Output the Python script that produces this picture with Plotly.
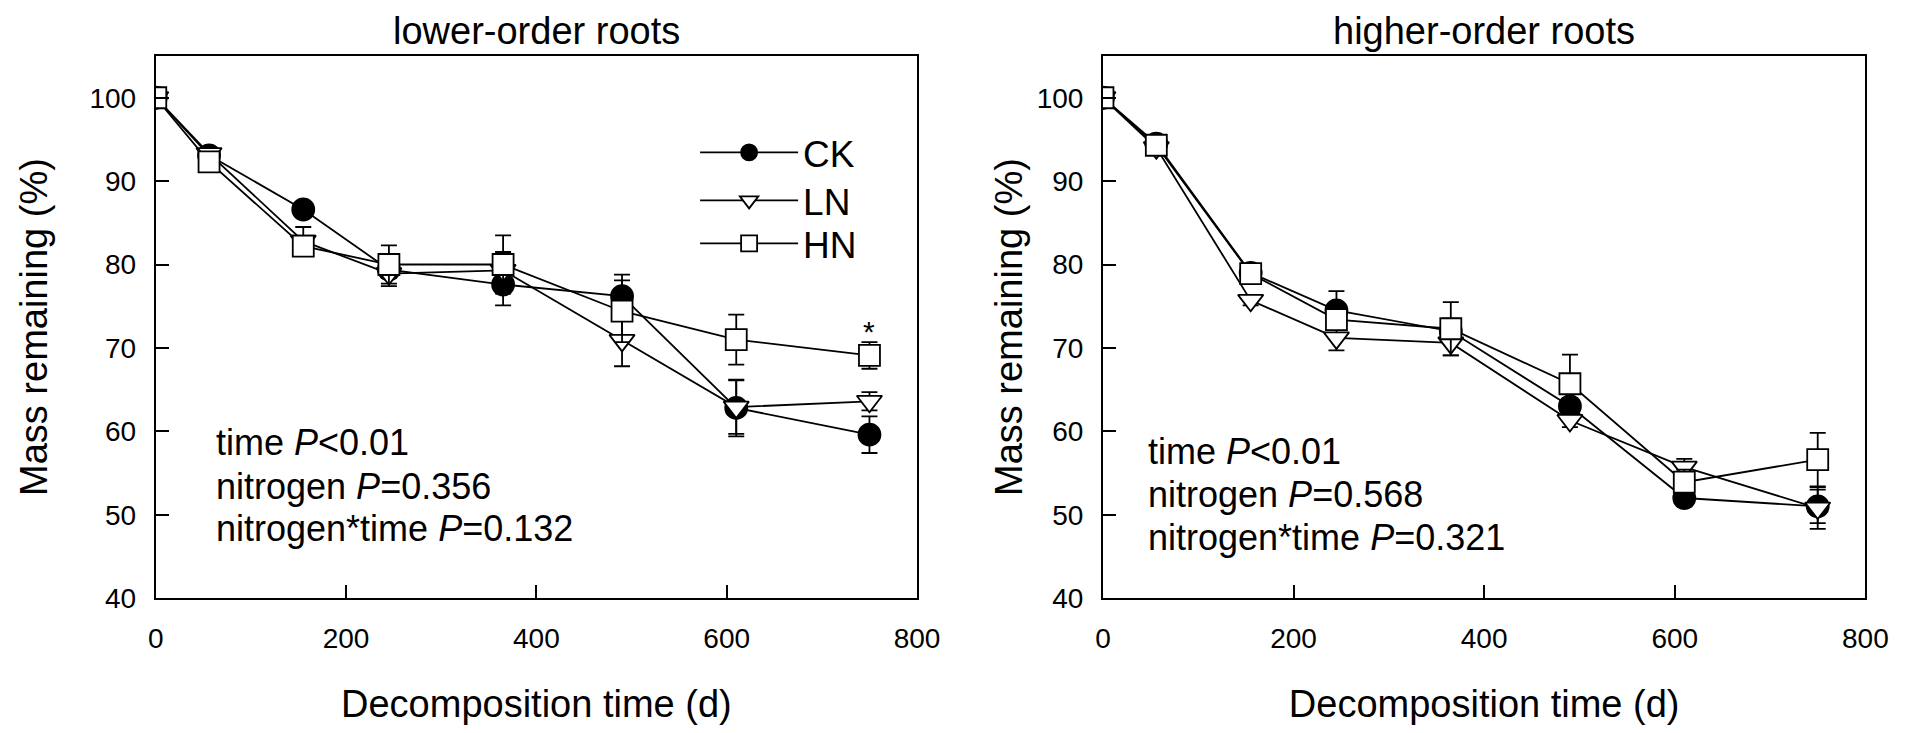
"""
Mass remaining of lower- and higher-order roots during decomposition,
redrawn with Plotly.
"""

import plotly.graph_objects as go

font_family = 'Liberation Sans, Arial, sans-serif'

days = [0, 56, 155, 245, 365, 490, 610, 750]

# lower-order roots
ck_low = [100, 93.1, 86.6, 79.4, 77.6, 76.2, 62.8, 59.6]
ck_low_err = [0.3, 0.5, 0.5, 1.0, 2.5, 2.6, 3.4, 2.2]
ln_low = [100, 93.3, 82.8, 78.9, 79.3, 70.9, 62.9, 63.6]
ln_low_err = [0.3, 0.5, 1.7, 1.5, 2.2, 3.1, 3.2, 1.1]
hn_low = [100, 92.3, 82.2, 80.0, 80.0, 74.4, 71.0, 69.1]
hn_low_err = [0.3, 0.6, 1.0, 2.3, 3.5, 3.7, 3.0, 1.6]

# higher-order roots
ck_high = [100, 94.5, 79.0, 74.5, 72.0, 63.0, 52.0, 51.0]
ck_high_err = [0.3, 0.5, 0.8, 2.3, 1.5, 1.0, 1.0, 2.0]
ln_high = [100, 94.0, 75.7, 71.2, 70.6, 61.3, 55.7, 50.8]
ln_high_err = [0.3, 0.5, 0.6, 1.5, 1.5, 0.8, 1.0, 2.5]
hn_high = [100, 94.3, 78.9, 73.4, 72.3, 65.7, 53.9, 56.6]
hn_high_err = [0.3, 0.5, 0.7, 1.2, 3.2, 3.5, 1.5, 3.2]

stats_low = ['time <i>P</i>&lt;0.01', 'nitrogen <i>P</i>=0.356',
             'nitrogen*time <i>P</i>=0.132']
stats_high = ['time <i>P</i>&lt;0.01', 'nitrogen <i>P</i>=0.568',
              'nitrogen*time <i>P</i>=0.321']

treatments = ['CK', 'LN', 'HN']
symbols = {'CK': 'circle', 'LN': 'triangle-down', 'HN': 'square'}
fills = {'CK': 'black', 'LN': 'white', 'HN': 'white'}
sizes = {'CK': 22, 'LN': 22, 'HN': 21}
legend_ids = {'CK': 'legend', 'LN': 'legend2', 'HN': 'legend3'}

panels = [
    ('x', 'y', {'CK': (ck_low, ck_low_err), 'LN': (ln_low, ln_low_err),
                'HN': (hn_low, hn_low_err)}, True),
    ('x2', 'y2', {'CK': (ck_high, ck_high_err),
                  'LN': (ln_high, ln_high_err),
                  'HN': (hn_high, hn_high_err)}, False),
]

fig = go.Figure()
for xref, yref, data, show in panels:
    for name in treatments:
        values, errors = data[name]
        fig.add_trace(go.Scatter(
            x=days, y=values, name=name, xaxis=xref, yaxis=yref,
            mode='lines+markers', showlegend=show,
            legend=legend_ids[name],
            line={'color': 'black', 'width': 1.8},
            marker={'symbol': symbols[name], 'size': sizes[name],
                    'color': fills[name],
                    'line': {'color': 'black', 'width': 1.8}},
            error_y={'type': 'data', 'array': errors, 'visible': True,
                     'color': 'black', 'thickness': 1.8, 'width': 8},
        ))

axis_style = dict(
    showline=True, linecolor='black', linewidth=2, mirror=True,
    ticks='inside', ticklen=13, tickwidth=1.8, tickcolor='black',
    showgrid=False, zeroline=False,
    tickfont={'family': font_family, 'size': 28, 'color': 'black'},
    title_font={'family': font_family, 'size': 38, 'color': 'black'},
)


def legend_box(y):
    """Legend settings for a single row placed at paper height y."""
    return {'x': 0.362, 'y': y, 'xanchor': 'left', 'yanchor': 'middle',
            'font': {'family': font_family, 'size': 37, 'color': 'black'},
            'bgcolor': 'rgba(0,0,0,0)', 'itemwidth': 98}


fig.update_layout(
    width=1907, height=733,
    margin={'l': 0, 'r': 0, 't': 0, 'b': 0},
    plot_bgcolor='white', paper_bgcolor='white',
    font={'family': font_family, 'color': 'black'},
    xaxis=dict(axis_style, domain=[0.0745, 0.4803], range=[0, 800],
               tickvals=[0, 200, 400, 600, 800], ticklabelstandoff=14,
               title={'text': 'Decomposition time (d)', 'standoff': 38},
               anchor='y'),
    yaxis=dict(axis_style, domain=[0.177, 0.933], range=[40, 105],
               tickvals=[40, 50, 60, 70, 80, 90, 100], ticklabelstandoff=12,
               title={'text': 'Mass remaining (%)', 'standoff': 30},
               anchor='x'),
    xaxis2=dict(axis_style, domain=[0.5794, 0.9858], range=[0, 800],
                tickvals=[0, 200, 400, 600, 800], ticklabelstandoff=14,
                title={'text': 'Decomposition time (d)', 'standoff': 38},
                anchor='y2'),
    yaxis2=dict(axis_style, domain=[0.177, 0.933], range=[40, 105],
                tickvals=[40, 50, 60, 70, 80, 90, 100], ticklabelstandoff=12,
                title={'text': 'Mass remaining (%)', 'standoff': 2},
                anchor='x2'),
    legend=legend_box(0.798),
    legend2=legend_box(0.731),
    legend3=legend_box(0.671),
)

annotations = [
    dict(text='lower-order roots', xref='paper', yref='paper',
         x=0.2774, y=1.0, xanchor='center', yanchor='top',
         showarrow=False, font={'size': 38}),
    dict(text='higher-order roots', xref='paper', yref='paper',
         x=0.7826, y=1.0, xanchor='center', yanchor='top',
         showarrow=False, font={'size': 38}),
    dict(text='*', xref='x', yref='y', x=750, y=72.0, xanchor='center',
         yanchor='middle', showarrow=False, font={'size': 30}),
]
for line, y in zip(stats_low, [58.6, 53.4, 48.3]):
    annotations.append(dict(
        text=line, xref='x', yref='y', x=61, y=y, xanchor='left',
        yanchor='middle', align='left', showarrow=False, font={'size': 36}))
for line, y in zip(stats_high, [57.6, 52.4, 47.3]):
    annotations.append(dict(
        text=line, xref='x2', yref='y2', x=45, y=y, xanchor='left',
        yanchor='middle', align='left', showarrow=False, font={'size': 36}))
fig.update_layout(annotations=annotations)

fig.write_html("out.html")
